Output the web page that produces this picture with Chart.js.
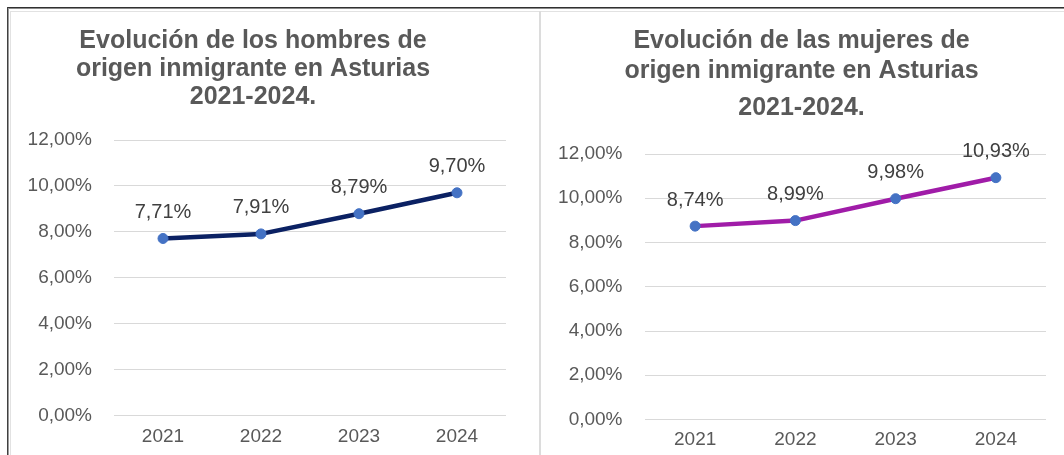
<!DOCTYPE html>
<html><head><meta charset="utf-8">
<script src="https://cdn.jsdelivr.net/npm/chart.js@4.4.1/dist/chart.umd.min.js"></script>
<style>
html,body{margin:0;padding:0;background:#fff;}
body{width:1064px;height:455px;position:relative;overflow:hidden;font-family:"Liberation Sans",Arial,sans-serif;}
canvas{position:absolute;top:0;}
.b{position:absolute;}
</style></head><body>
<div class="b" style="left:7px;top:7px;width:1057px;height:1px;background:#303030"></div>
<div class="b" style="left:7px;top:8px;width:1057px;height:1px;background:#8a8a8a"></div>
<div class="b" style="left:7px;top:7px;width:1px;height:448px;background:#404040"></div>
<div class="b" style="left:8px;top:8px;width:1px;height:447px;background:#9a9a9a"></div>
<div class="b" style="left:10px;top:11px;width:1054px;height:1px;background:#e2e2e2"></div>
<div class="b" style="left:10px;top:11px;width:1px;height:444px;background:#e2e2e2"></div>
<div class="b" style="left:539px;top:11px;width:2px;height:444px;background:#dcdcdc"></div>
<canvas id="c1" width="512" height="455" style="left:0"></canvas>
<canvas id="c2" width="496" height="455" style="left:556px"></canvas>
<script>
// ---- data ----
const years = ['2021', '2022', '2023', '2024'];
const hombres = [7.71, 7.91, 8.79, 9.70];
const mujeres = [8.74, 8.99, 9.98, 10.93];
const yTickValues = [0, 2, 4, 6, 8, 10, 12];
const titleHombres = ['Evolución de los hombres de', 'origen inmigrante en Asturias', '2021-2024.'];
const titleMujeres = ['Evolución de las mujeres de', 'origen inmigrante en Asturias'];
const subtitleMujeres = ['2021-2024.'];

const FONT = '"Liberation Sans", Arial, Helvetica, sans-serif';
const pct = v => v.toFixed(2).replace('.', ',') + '%';

const valueLabels = {
  id: 'valueLabels',
  afterDatasetsDraw(chart, args, opts) {
    const ctx = chart.ctx;
    chart.data.datasets.forEach((ds, i) => {
      const meta = chart.getDatasetMeta(i);
      meta.data.forEach((pt, j) => {
        ctx.save();
        ctx.font = '20px ' + FONT;
        ctx.fillStyle = '#404040';
        ctx.textAlign = 'center';
        ctx.textBaseline = 'middle';
        ctx.fillText(pct(ds.data[j]), pt.x, pt.y - opts.offset);
        ctx.restore();
      });
    });
  }
};

function makeChart(id, values, color, g) {
  const ctx = document.getElementById(id);
  return new Chart(ctx, {
    type: 'line',
    data: {
      labels: years,
      datasets: [{
        data: values,
        borderColor: color,
        borderWidth: 4.5,
        tension: 0,
        borderCapStyle: 'round',
        borderJoinStyle: 'round',
        pointRadius: 5,
        pointBorderWidth: 1,
        pointBackgroundColor: '#4472C4',
        pointBorderColor: '#4472C4',
        fill: false
      }]
    },
    plugins: [valueLabels],
    options: {
      responsive: false,
      devicePixelRatio: 1,
      animation: false,
      events: [],
      layout: { padding: { left: 0, right: g.padRight, top: 0, bottom: 0 } },
      plugins: {
        legend: { display: false },
        tooltip: { enabled: false },
        valueLabels: { offset: 26 },
        title: {
          display: true,
          text: g.title,
          color: '#595959',
          font: { family: FONT, size: 25, weight: 'bold', lineHeight: g.titleLH },
          padding: g.titlePad
        },
        subtitle: {
          display: !!g.subtitle,
          text: g.subtitle || '',
          color: '#595959',
          font: { family: FONT, size: 25, weight: 'bold', lineHeight: g.titleLH },
          padding: g.subPad || 0
        }
      },
      scales: {
        x: {
          offset: true,
          grid: { display: false, drawTicks: false },
          border: { display: false },
          ticks: { color: '#595959', font: { family: FONT, size: 19 }, padding: g.xPad, maxRotation: 0 },
          afterFit(s) { s.height = g.xHeight; }
        },
        y: {
          min: yTickValues[0],
          max: yTickValues[yTickValues.length - 1],
          afterBuildTicks(s) { s.ticks = yTickValues.map(v => ({ value: v })); },
          grid: { color: '#d9d9d9', lineWidth: 1, drawTicks: false },
          border: { display: false },
          ticks: { color: '#595959', font: { family: FONT, size: 19 }, padding: g.yPad, callback: v => pct(v) },
          afterFit(s) { s.width = g.yWidth; }
        }
      }
    }
  });
}

makeChart('c1', hombres, '#0B2163', {
  title: titleHombres, titleLH: '28px', titlePad: { top: 27, bottom: 29 },
  padRight: 6, yWidth: 114, yPad: 22, xHeight: 39.5, xPad: 10
});
makeChart('c2', mujeres, '#A01CA8', {
  title: titleMujeres, subtitle: subtitleMujeres, titleLH: '30px',
  titlePad: { top: 26.5, bottom: 0 }, subPad: { top: 7, bottom: 30.5 },
  padRight: 5, yWidth: 89, yPad: 22.5, xHeight: 35.5, xPad: 9
});
</script>
</body></html>
